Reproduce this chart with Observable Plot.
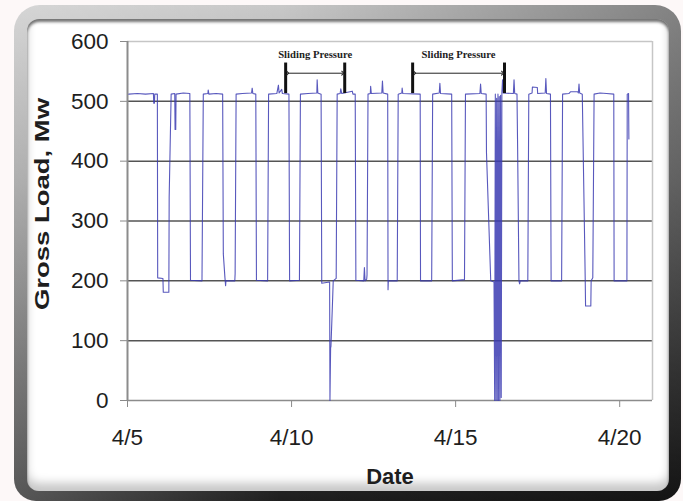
<!DOCTYPE html>
<html><head><meta charset="utf-8">
<script src="https://cdn.jsdelivr.net/npm/d3@7"></script>
<script src="https://cdn.jsdelivr.net/npm/@observablehq/plot@0.6"></script>
<style>
html,body{margin:0;padding:0;background:#fdf8f8;}
#wrap{position:relative;width:683px;height:501px;overflow:hidden;}
#frame{position:absolute;left:14px;top:5px;width:667px;height:496px;border-radius:26px 26px 22px 22px;
 background:linear-gradient(to right, rgba(255,255,255,0.25), rgba(255,255,255,0) 40%, rgba(0,0,0,0.35)),
            linear-gradient(to bottom,#c8c8c8 0%,#959595 35%,#4a4a4a 75%,#1e1e1e 100%);}
#inner{position:absolute;left:27px;top:19px;width:642px;height:472px;border-radius:12px;background:#fff;
 box-shadow: inset 0 3px 3px rgba(0,0,0,.55), inset 0 -8px 10px rgba(0,0,0,.22);}
#chart{position:absolute;left:0;top:0;}
#chart svg text{fill:#1e1e1e;}
</style></head>
<body>
<div id="wrap"><div id="frame"></div><div id="inner"></div><div id="chart"></div></div>
<script>
// Time (day of April, fractional) and gross load (MW)
const loadDay = [
  5.04, 5.30, 5.55, 5.79, 5.80, 5.82, 5.83, 5.91,
  5.92, 6.08, 6.09, 6.26, 6.27, 6.33, 6.44, 6.45, 6.47, 6.48, 6.70, 6.90,
  6.92, 7.27, 7.31, 7.45, 7.46, 7.48, 7.70, 7.90,
  7.92, 7.97, 7.99, 8.00, 8.27, 8.28, 8.31, 8.50, 8.78, 8.80, 8.82, 8.91,
  8.93, 9.27, 9.30, 9.55, 9.60, 9.62, 9.70, 9.72, 9.92,
  9.94, 10.24, 10.27, 10.50, 10.77, 10.78, 10.80, 10.90,
  10.92, 11.16, 11.17, 11.19, 11.20, 11.25, 11.27, 11.36, 11.39, 11.48, 11.50, 11.53, 11.85, 11.87, 11.94,
  11.96, 12.20, 12.22, 12.24, 12.29, 12.30, 12.33, 12.40, 12.41, 12.43, 12.75, 12.77, 12.79, 12.93,
  12.94, 12.95, 13.22, 13.25, 13.36, 13.37, 13.39, 13.92,
  13.93, 14.27, 14.30, 14.50, 14.52, 14.54, 14.88,
  14.90, 15.27, 15.30, 15.74, 15.76, 15.78, 15.93,
  15.94, 16.07, 16.17, 16.19, 16.21, 16.23, 16.25, 16.27, 16.29, 16.31, 16.33, 16.35, 16.37, 16.39, 16.41, 16.43, 16.45, 16.76, 16.78, 16.80, 16.87,
  16.89, 16.93, 16.95, 16.97, 17.20, 17.23, 17.33, 17.34, 17.49, 17.50, 17.73, 17.75, 17.77, 17.89,
  17.91, 18.23, 18.26, 18.45, 18.50, 18.72, 18.74, 18.76, 18.78, 18.86,
  18.93, 18.95, 18.96, 19.12, 19.13, 19.18, 19.22, 19.40, 19.60, 19.82,
  19.83, 20.22, 20.23, 20.27, 20.28
];
const loadMW = [
  512, 513, 512, 513, 497, 497, 512, 512,
  205, 204, 181, 181, 340, 512, 513, 453, 453, 512, 514, 513,
  201, 200, 512, 513, 519, 512, 513, 512,
  245, 205, 192, 200, 200, 212, 512, 513, 514, 522, 513, 512,
  201, 200, 512, 513, 527, 514, 520, 513, 512,
  200, 201, 512, 513, 514, 536, 514, 512,
  196, 198, 0, 88, 90, 167, 200, 204, 512, 513, 521, 513, 517, 512, 512,
  201, 200, 222, 200, 203, 210, 512, 513, 525, 513, 514, 534, 514, 512,
  185, 200, 200, 512, 514, 522, 513, 512,
  200, 200, 512, 514, 530, 513, 512,
  200, 202, 512, 513, 529, 513, 512,
  415, 200, 198, 0, 512, 0, 505, 0, 512, 0, 508, 0, 510, 5, 515, 536, 514, 513, 536, 513, 512,
  420, 200, 195, 200, 200, 512, 514, 524, 523, 513, 514, 538, 513, 512,
  200, 200, 512, 513, 516, 516, 514, 529, 514, 512,
  272, 200, 158, 158, 200, 205, 512, 514, 513, 512,
  200, 200, 512, 513, 437
];
// Axis ticks
const xTicks = [5, 10, 15, 20];
const xTickLabels = ["4/5", "4/10", "4/15", "4/20"];
const yTicks = [0, 100, 200, 300, 400, 500, 600];
const gridValues = [100, 200, 300, 400, 500];
// "Sliding Pressure" annotations
const bracketStart = [9.82, 13.69];
const bracketEnd = [11.62, 16.49];
const bracketLabel = ["Sliding Pressure", "Sliding Pressure"];
const bracketLow = 513, bracketHigh = 564, arrowLevel = 547, labelLevel = 578;

const data = loadDay.map((d, i) => ({day: d, mw: loadMW[i]}));
const brackets = bracketStart.map((s, i) => ({start: s, end: bracketEnd[i], mid: (s + bracketEnd[i]) / 2, label: bracketLabel[i]}));
const bracketEdges = brackets.flatMap(b => [b.start, b.end]);

const chart = Plot.plot({
  width: 683, height: 501,
  marginLeft: 127, marginRight: 31, marginTop: 41, marginBottom: 101,
  style: {background: "transparent", fontFamily: "'Liberation Sans', Arial, sans-serif", fontSize: "22.5px", color: "#8a8a8a"},
  x: {type: "linear", domain: [5, 21], ticks: xTicks, tickFormat: d => xTickLabels[xTicks.indexOf(d)], tickSize: 7, tickPadding: 22, label: null},
  y: {domain: [0, 600], ticks: yTicks, tickSize: 7, tickPadding: 12, label: null},
  marks: [
    Plot.ruleY(gridValues, {stroke: "#555", strokeWidth: 1.5}),
    Plot.ruleY([600], {stroke: "#c6c6c6", strokeWidth: 1.5}),
    Plot.ruleX([21], {stroke: "#c6c6c6", strokeWidth: 1.5}),
    Plot.ruleY([0], {stroke: "#8c8c8c", strokeWidth: 1.6}),
    Plot.ruleX([5], {stroke: "#8c8c8c", strokeWidth: 2}),
    Plot.line(data, {x: "day", y: "mw", stroke: "#3b3bb2", strokeWidth: 1.1, strokeOpacity: 0.85}),
    Plot.ruleX(bracketEdges, {y1: bracketLow, y2: bracketHigh, stroke: "#111", strokeWidth: 3}),
    Plot.link(brackets, {x1: d => d.start + 0.06, x2: d => d.end - 0.06, y1: arrowLevel, y2: arrowLevel, stroke: "#222", strokeWidth: 1, markerStart: "arrow", markerEnd: "arrow"}),
    Plot.text(brackets, {x: "mid", y: labelLevel, text: "label", fontFamily: "'Liberation Serif', 'Times New Roman', serif", fontWeight: "bold", fontSize: 11}),
    Plot.text(["Date"], {text: d => d, frameAnchor: "bottom", dy: 83, fontWeight: "bold", fontSize: 22}),
    Plot.text(["Gross Load, Mw"], {text: d => d, frameAnchor: "left", dx: -85, dy: 89, rotate: -90, textAnchor: "start", fontWeight: "bold", fontSize: 21})
  ]
});
document.getElementById("chart").appendChild(chart);
d3.select(chart).selectAll("text").each(function() {
  const t = this.textContent;
  if (t === "Gross Load, Mw") { this.setAttribute("textLength", 212); this.setAttribute("lengthAdjust", "spacingAndGlyphs"); }
  if (t === "Sliding Pressure") { this.setAttribute("textLength", 74); this.setAttribute("lengthAdjust", "spacingAndGlyphs"); }
});
</script>
</body></html>
